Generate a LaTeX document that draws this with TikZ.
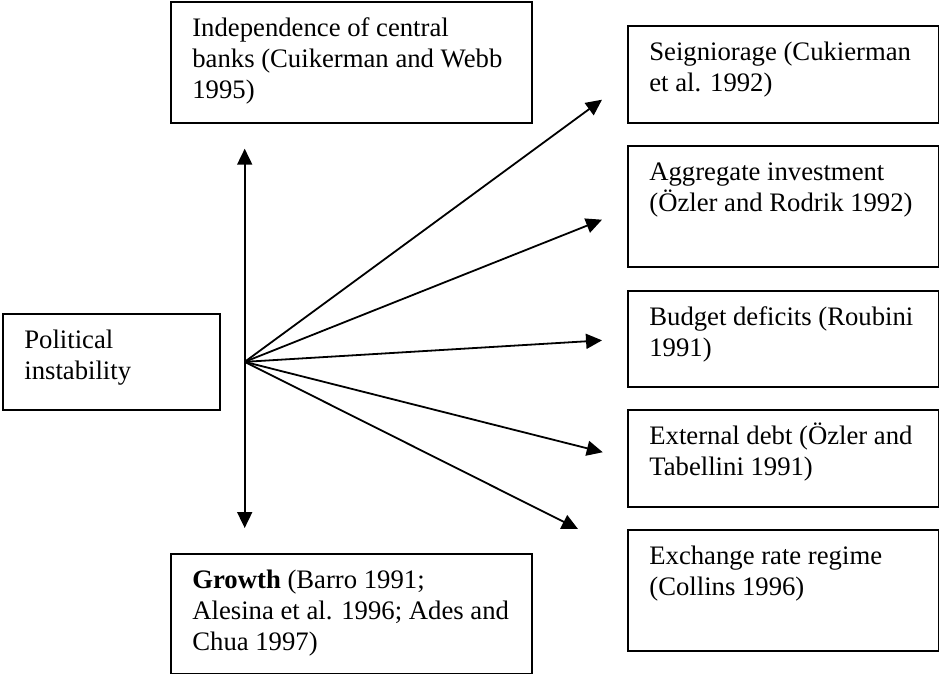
\documentclass[tikz,border=0pt]{standalone}
\usepackage{fontspec}
\setmainfont{Liberation Serif}
\usepackage{tikz}
\usetikzlibrary{
  arrows.meta,
  positioning,
  calc
}
\newcommand{\boxtxt}[3]{\parbox[t][#2pt][t]{#1pt}{\raggedright\leftskip=21.5pt\rule{0pt}{35pt}#3}}

\begin{document}
\begin{tikzpicture}[
  x=1pt, y=-1pt,
  box/.style={draw, line width=1.7pt, anchor=north west, inner sep=0pt,
    font=\fontsize{26.7}{31}\selectfont},
  arr/.style={line width=1.8pt, -{Triangle[length=16pt,width=15pt]}}
]
  \useasboundingbox (0,0) rectangle (939,674);

  \node[box] (polit)  at (2,313)   {\boxtxt{217}{96}{Political\\ instability}};
  \node[box] (indep)  at (170,1)   {\boxtxt{361}{121}{Independence of central\\ banks (Cuikerman and Webb\\ 1995)}};
  \node[box] (growth) at (170,553) {\boxtxt{361}{120}{\textbf{Growth} (Barro 1991;\\ Alesina et al. 1996; Ades and\\ Chua 1997)}};
  \node[box] (seig)   at (627,25)  {\boxtxt{311}{97}{Seigniorage (Cukierman\\ et al. 1992)}};
  \node[box] (aggr)   at (627,145) {\boxtxt{311}{121}{Aggregate investment\\ (Özler and Rodrik 1992)}};
  \node[box] (budg)   at (627,290) {\boxtxt{311}{96}{Budget deficits (Roubini\\ 1991)}};
  \node[box] (ext)    at (627,409) {\boxtxt{311}{97}{External debt (Özler and\\ Tabellini 1991)}};
  \node[box] (exch)   at (627,529) {\boxtxt{311}{121}{Exchange rate regime\\ (Collins 1996)}};

  \coordinate (hub) at ([xshift=24pt]polit.east);
  \coordinate (toseig) at ([xshift=-25pt,yshift=24pt]seig.south west);
  \coordinate (toaggr) at ([xshift=-25pt,yshift=48pt]aggr.south west);
  \coordinate (toexch) at ([xshift=-49pt]exch.north west);

  \draw[arr, shorten >=25pt] (hub) -- (hub |- indep.south);
  \draw[arr, shorten >=25pt] (hub) -- (hub |- growth.north);
  \draw[arr] (hub) -- (toseig);
  \draw[arr] (hub) -- (toaggr);
  \draw[arr, shorten >=25pt] (hub) -- (budg.west);
  \draw[arr, shorten >=25pt] (hub) -- (ext.west);
  \draw[arr] (hub) -- (toexch);
\end{tikzpicture}
\end{document}
